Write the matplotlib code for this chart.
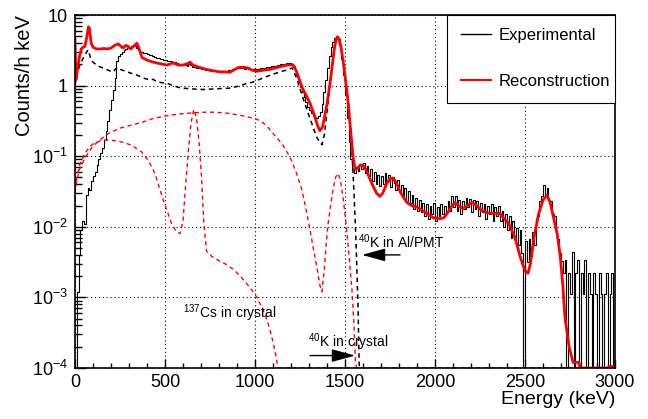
import numpy as np
import matplotlib
matplotlib.use('Agg')
import matplotlib.pyplot as plt
from matplotlib.lines import Line2D
from matplotlib.ticker import MultipleLocator, LogLocator, NullFormatter

plt.rcParams['font.family'] = ['Liberation Sans', 'DejaVu Sans']
plt.rcParams['mathtext.fontset'] = 'custom'
plt.rcParams['mathtext.rm'] = 'Liberation Sans'
plt.rcParams['mathtext.it'] = 'Liberation Sans:italic'
plt.rcParams['mathtext.bf'] = 'Liberation Sans:bold'

# experimental spectrum, 10 keV bins from 0 to 3000 keV (counts/h keV)
bin_width = 10
exp_counts = [
    0, 0.0012, 0.004, 0.009, 0.012, 0.011, 0.028, 0.035, 0.033, 0.045,
    0.052, 0.06, 0.075, 0.09, 0.11, 0.13, 0.17, 0.23, 0.32, 0.45,
    0.62, 0.88, 1.3, 2.2, 2.6, 2.8, 3.0, 3.2, 3.3, 3.4,
    3.5, 3.6, 3.7, 3.6, 3.4, 3.2, 3.0, 2.95, 2.9, 2.85,
    2.8, 2.72, 2.7, 2.6, 2.57, 2.5, 2.45, 2.42, 2.35, 2.3,
    2.32, 2.25, 2.2, 2.22, 2.1, 2.15, 2.1, 2.05, 2.02, 2.0,
    1.95, 1.97, 1.9, 2.0, 1.95, 1.85, 1.82, 1.8, 1.75, 1.76,
    1.7, 1.72, 1.68, 1.65, 1.66, 1.62, 1.6, 1.61, 1.63, 1.6,
    1.58, 1.6, 1.62, 1.6, 1.63, 1.65, 1.68, 1.7, 1.72, 1.75,
    1.78, 1.8, 1.78, 1.75, 1.72, 1.76, 1.72, 1.7, 1.68, 1.7,
    1.7, 1.72, 1.74, 1.76, 1.78, 1.8, 1.81, 1.82, 1.85, 1.87,
    1.9, 1.92, 1.95, 1.97, 2.0, 2.02, 2.05, 2.08, 2.1, 2.1,
    2.05, 1.9, 1.65, 1.4, 1.15, 0.95, 0.8, 0.68, 0.58, 0.5,
    0.45, 0.41, 0.38, 0.36, 0.35, 0.37, 0.42, 0.55, 0.8, 1.2,
    1.8, 2.6, 3.5, 4.2, 4.8, 5.0, 4.6, 3.6, 2.4, 1.4,
    0.75, 0.35, 0.16, 0.09, 0.065, 0.058, 0.07, 0.062, 0.075, 0.066,
    0.08, 0.058, 0.073, 0.052, 0.066, 0.045, 0.06, 0.041, 0.054, 0.038,
    0.052, 0.04, 0.058, 0.044, 0.055, 0.037, 0.05, 0.042, 0.033, 0.046,
    0.031, 0.039, 0.026, 0.035, 0.023, 0.032, 0.022, 0.028, 0.018, 0.026,
    0.017, 0.024, 0.016, 0.022, 0.014, 0.021, 0.013, 0.02, 0.015, 0.022,
    0.012, 0.019, 0.014, 0.021, 0.015, 0.02, 0.016, 0.023, 0.017, 0.027,
    0.019, 0.027, 0.017, 0.024, 0.015, 0.023, 0.018, 0.026, 0.019, 0.025,
    0.016, 0.024, 0.018, 0.023, 0.014, 0.022, 0.016, 0.021, 0.013, 0.02,
    0.015, 0.021, 0.012, 0.019, 0.014, 0.02, 0.012, 0.017, 0.01, 0.015,
    0.009, 0.014, 0.007, 0.012, 0.0068, 0.0095, 0.0055, 0.009, 0.0042, 0,
    0.0062, 0.0032, 0.0068, 0.0038, 0.0085, 0.0055, 0.013, 0.014, 0.023, 0.027,
    0.039, 0.029, 0.035, 0.024, 0.023, 0.015, 0.014, 0.0085, 0.0068, 0.0042,
    0.0033, 0.0022, 0.0034, 0, 0.0022, 0.0011, 0.0044, 0, 0.0022, 0.0034,
    0, 0.0022, 0.0011, 0.0034, 0, 0.0022, 0.0011, 0, 0.0022, 0.0011,
    0, 0.0022, 0.0011, 0, 0.0011, 0.0022, 0, 0.0011, 0.0022, 0,
]

# reconstruction (sum of components)
rec_energy = [0, 5, 15, 25, 35, 45, 55, 65, 75, 80, 90, 100, 120, 140, 160, 180,
              200, 220, 240, 255, 268, 280, 294, 310, 325, 344, 355, 372, 400,
              433, 470, 511, 544, 575, 600, 625, 640, 656, 680, 711, 750, 800,
              861, 880, 906, 935, 961, 985, 1011, 1045, 1083, 1120, 1150, 1178,
              1211, 1230, 1261, 1285, 1306, 1330, 1350, 1361, 1375, 1390, 1400,
              1415, 1428, 1440, 1450, 1458, 1466, 1478, 1489, 1500, 1510, 1517,
              1530, 1545, 1556, 1570, 1585, 1600, 1615, 1635, 1655, 1675, 1694,
              1710, 1730, 1750, 1767, 1785, 1805, 1825, 1844, 1870, 1900, 1930,
              1956, 1990, 2028, 2050, 2075, 2095, 2111, 2130, 2156, 2180, 2206,
              2230, 2260, 2290, 2330, 2361, 2385, 2410, 2444, 2470, 2490, 2505,
              2517, 2530, 2550, 2575, 2600, 2622, 2640, 2660, 2678, 2695, 2710,
              2722, 2745, 2767, 2800, 2805, 2960, 2965, 3000]
rec_counts = [4.5, 1.2, 1.8, 2.6, 3.3, 3.5, 3.6, 4.8, 6.8, 6.5, 4.0, 3.5, 3.3, 3.3,
              3.35, 3.3, 3.4, 3.7, 3.9, 3.6, 3.4, 3.7, 3.6, 3.3, 3.6, 4.0, 3.4,
              2.5, 2.3, 2.15, 2.05, 1.95, 2.1, 1.95, 1.95, 2.05, 2.15, 1.95, 1.85,
              1.75, 1.65, 1.57, 1.55, 1.65, 1.8, 1.82, 1.78, 1.65, 1.6, 1.65, 1.7,
              1.8, 1.88, 1.95, 1.97, 1.6, 0.95, 0.72, 0.56, 0.38, 0.26, 0.23, 0.26,
              0.4, 0.55, 1.0, 1.8, 3.2, 4.5, 4.9, 4.6, 3.5, 2.3, 1.4, 0.85, 0.6,
              0.25, 0.098, 0.065, 0.068, 0.075, 0.074, 0.066, 0.05, 0.038, 0.03,
              0.027, 0.03, 0.04, 0.048, 0.049, 0.042, 0.032, 0.026, 0.022, 0.02,
              0.019, 0.017, 0.0155, 0.0135, 0.013, 0.0135, 0.0165, 0.02, 0.022,
              0.02, 0.018, 0.02, 0.022, 0.02, 0.017, 0.0158, 0.0155, 0.0155,
              0.013, 0.011, 0.0071, 0.004, 0.0028, 0.0023, 0.0022, 0.003, 0.007,
              0.015, 0.024, 0.028, 0.022, 0.013, 0.0081, 0.004, 0.0015, 5.2e-4,
              2e-4, 1.2e-4, 1.2e-4, 1.0e-4, 1.0e-4, 1.05e-4, 1.05e-4]

# 40K in Al/PMT component
pmt_energy = [0, 10, 25, 40, 55, 65, 72, 80, 90, 100, 125, 156, 185, 211, 228, 240,
              250, 280, 310, 344, 380, 417, 433, 450, 480, 511, 545, 583, 640, 711,
              780, 861, 920, 956, 989, 1050, 1100, 1150, 1178, 1206, 1230, 1260,
              1289, 1320, 1345, 1372, 1385, 1400, 1415, 1428, 1440, 1450, 1458,
              1466, 1478, 1489, 1500, 1517, 1530, 1540, 1550, 1558, 1565, 1572, 1580]
pmt_counts = [1.0, 1.4, 1.9, 2.3, 2.7, 3.0, 3.2, 2.8, 2.3, 2.15, 1.9, 1.78, 1.65, 1.55,
              1.75, 1.8, 1.7, 1.6, 1.5, 1.41, 1.28, 1.2, 1.23, 1.15, 1.1, 1.08, 1.0,
              0.93, 0.9, 0.88, 0.9, 0.92, 1.0, 1.08, 1.12, 1.3, 1.45, 1.6, 1.66,
              1.78, 1.3, 0.75, 0.45, 0.27, 0.18, 0.145, 0.2, 0.42, 0.9, 1.8, 3.2,
              4.5, 4.9, 4.6, 3.4, 2.2, 1.3, 0.6, 0.25, 0.1, 0.03, 0.01, 0.003,
              0.0008, 0.00008]

# 137Cs in crystal component
cs_energy = [0, 10, 25, 50, 80, 110, 150, 185, 230, 278, 320, 370, 410, 444, 470,
             490, 515, 537, 560, 583, 600, 615, 630, 645, 660, 675, 690, 703, 715,
             731, 760, 800, 833, 880, 926, 970, 1011, 1040, 1067, 1090, 1110, 1128,
             3000]
cs_counts = [0.035, 0.05, 0.075, 0.105, 0.135, 0.155, 0.168, 0.17, 0.165, 0.155,
             0.14, 0.115, 0.085, 0.057, 0.035, 0.024, 0.016, 0.011, 0.0088, 0.008,
             0.012, 0.04, 0.12, 0.3, 0.46, 0.35, 0.15, 0.05, 0.012, 0.0045, 0.0038,
             0.0033, 0.003, 0.0025, 0.0019, 0.0014, 0.001, 0.0007, 0.00048, 0.0003,
             0.00018, 0.0001, 0.0001]

# 40K in crystal component
kcr_energy = [0, 10, 25, 56, 100, 150, 185, 250, 300, 370, 430, 500, 570, 648, 720,
              778, 850, 917, 960, 1000, 1028, 1065, 1100, 1150, 1194, 1230, 1261,
              1285, 1306, 1325, 1344, 1360, 1372, 1385, 1395, 1406, 1420, 1433,
              1447, 1461, 1475, 1490, 1506, 1522, 1539, 1550, 1558, 1565, 3000]
kcr_counts = [0.03, 0.045, 0.065, 0.095, 0.14, 0.18, 0.21, 0.25, 0.27, 0.3, 0.34,
              0.37, 0.395, 0.41, 0.42, 0.42, 0.405, 0.38, 0.36, 0.34, 0.32, 0.27,
              0.21, 0.15, 0.098, 0.058, 0.033, 0.017, 0.0089, 0.0048, 0.0027,
              0.0015, 0.0012, 0.0025, 0.0055, 0.011, 0.02, 0.033, 0.05, 0.057,
              0.045, 0.025, 0.011, 0.004, 0.00125, 0.0004, 0.00012, 0.0001, 0.0001]

y_ticks = [1e-4, 1e-3, 1e-2, 1e-1, 1, 10]
y_ticklabels = ['$10^{-4}$', '$10^{-3}$', '$10^{-2}$', '$10^{-1}$', '1', '10']

fig = plt.figure(figsize=(6.48, 4.19), dpi=100)
ax = fig.add_axes([75/648, 1-368/419, 540/648, 353/419])

centers = bin_width/2 + bin_width*np.arange(len(exp_counts))
ax.step(centers, exp_counts, where='mid', color='k', lw=0.8)
ax.plot(pmt_energy, pmt_counts, color='k', lw=1.1, ls=(0, (3, 2.5)))
ax.plot(cs_energy, cs_counts, color='red', lw=1.0, ls=(0, (3, 2.5)))
ax.plot(kcr_energy, kcr_counts, color='red', lw=1.0, ls=(0, (3, 2.5)))
ax.plot(rec_energy, rec_counts, color='red', lw=2.0)

ax.set_yscale('log')
ax.set_xlim(0, 3000)
ax.set_ylim(1e-4, 10)
ax.xaxis.set_major_locator(MultipleLocator(500))
ax.xaxis.set_minor_locator(MultipleLocator(100))
ax.set_yticks(y_ticks)
ax.set_yticklabels(y_ticklabels)
ax.yaxis.set_minor_locator(LogLocator(base=10, subs=np.arange(2, 10)))
ax.yaxis.set_minor_formatter(NullFormatter())
ax.tick_params(which='both', direction='in', top=False, right=False, labelsize=13)
ax.tick_params(axis='x', which='major', length=6.5, width=1, pad=4)
ax.tick_params(axis='x', which='minor', length=3.6, width=1)
ax.tick_params(axis='y', which='major', length=8, width=1, pad=5)
ax.tick_params(axis='y', which='minor', length=5, width=1)
for s in ax.spines.values():
    s.set_linewidth(1.2)
ax.grid(True, which='major', color='k', lw=0.8, ls=(0, (1, 2.5)))

ax.set_xlabel('Energy (keV)', fontsize=14, loc='right')
ax.set_ylabel('Counts/h keV', fontsize=14.5, loc='top')
ax.xaxis.set_label_coords(1.0, -0.064)
ax.yaxis.set_label_coords(-0.075, 1.0)

ax.text(600, 6.0e-4, r'$^{137}$Cs in crystal', fontsize=10, va='center')
ax.text(1294, 2.3e-4, r'$^{40}$K in crystal', fontsize=10, va='center')
ax.annotate('', xy=(1556, 1.5e-4), xytext=(1306, 1.5e-4),
            arrowprops=dict(arrowstyle='-|>,head_length=0.8,head_width=0.22',
                            mutation_scale=18, color='k', lw=1, shrinkA=0, shrinkB=0))
ax.text(1572, 6.1e-3, r'$^{40}$K in Al/PMT', fontsize=10, va='center')
ax.annotate('', xy=(1594, 4.0e-3), xytext=(1806, 4.0e-3),
            arrowprops=dict(arrowstyle='-|>,head_length=0.8,head_width=0.22',
                            mutation_scale=18, color='k', lw=1, shrinkA=0, shrinkB=0))

handles = [Line2D([], [], color='k', lw=1.0), Line2D([], [], color='red', lw=1.5)]
leg = ax.legend(handles, ['Experimental', 'Reconstruction'], loc='upper left',
                bbox_to_anchor=(0.6895, 0.0, 0.3105, 1.0), mode='expand',
                borderaxespad=0, fontsize=12, fancybox=False, edgecolor='k',
                framealpha=1, handlelength=1.8, handletextpad=0.45,
                labelspacing=1.85, borderpad=0.8)
leg.get_frame().set_linewidth(0.8)

fig.savefig('out.png', dpi=100)
